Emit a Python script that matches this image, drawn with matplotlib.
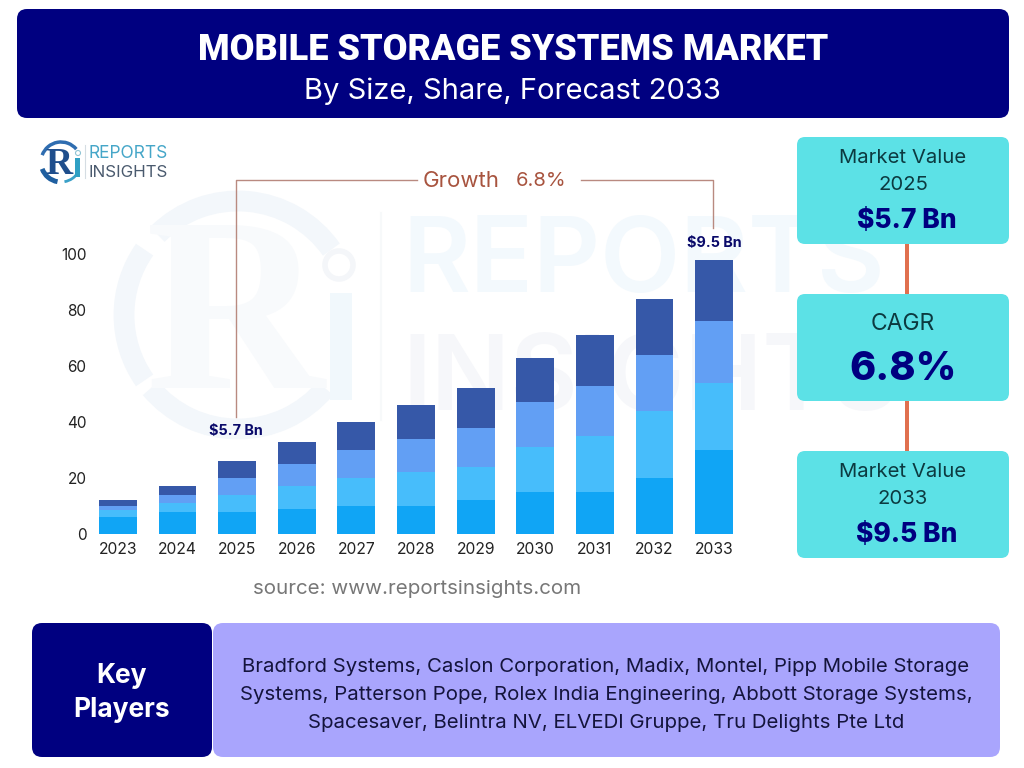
import matplotlib
matplotlib.use('Agg')
import matplotlib.pyplot as plt
from matplotlib.patches import FancyBboxPatch, Arc, Circle, Rectangle

plt.rcParams['font.family'] = ['Inter', 'DejaVu Sans']

# Stacked segments
years = ['2023', '2024', '2025', '2026', '2027', '2028', '2029', '2030', '2031', '2032', '2033']
seg_1 = [6, 8, 8, 9, 10, 10, 12, 15, 15, 20, 30]
seg_2 = [2.5, 3, 6, 8, 10, 12, 12, 16, 20, 24, 24]
seg_3 = [1.5, 3, 6, 8, 10, 12, 14, 16, 18, 20, 22]
seg_4 = [2, 3, 6, 8, 10, 12, 14, 16, 18, 20, 22]
seg_colors = ['#10A5F5', '#47BDFB', '#629FF4', '#3658A8']
y_ticks = [0, 20, 40, 60, 80, 100]

title = 'MOBILE STORAGE SYSTEMS MARKET'
subtitle = 'By Size, Share, Forecast 2033'
source = 'source: www.reportsinsights.com'
player_lines = ['Bradford Systems, Caslon Corporation, Madix, Montel, Pipp Mobile Storage',
                'Systems, Patterson Pope, Rolex India Engineering, Abbott Storage Systems,',
                'Spacesaver, Belintra NV, ELVEDI Gruppe, Tru Delights Pte Ltd']

NAVY = '#000080'
CARD = '#5CE1E6'
LAVENDER = '#A9A5FD'
DARK = '#0C3A40'
LINE = '#B98A80'
PALE = '#F3F7FB'

fig = plt.figure(figsize=(10.24, 7.68), dpi=100)

# Background axes in pixel coordinates for panels and labels
bg = fig.add_axes([0, 0, 1, 1], zorder=0)
bg.set_xlim(0, 1024)
bg.set_ylim(768, 0)
bg.axis('off')


def box(x0, y0, x1, y1, color, r=10, z=3):
    bg.add_patch(FancyBboxPatch((x0 + r, y0 + r), x1 - x0 - 2 * r, y1 - y0 - 2 * r,
                                boxstyle='round,pad=%d,rounding_size=%d' % (r, r),
                                fc=color, ec='none', zorder=z))


def label(x, y, s, size, color='black', weight='normal', ha='center', z=5, **kw):
    bg.text(x, y, s, fontsize=size, color=color, fontweight=weight, ha=ha,
            va='center_baseline', zorder=z, **kw)


# Watermark
bg.add_patch(Arc((238, 315), 228, 228, theta1=225, theta2=325, color=PALE, lw=15, zorder=1))
bg.add_patch(Arc((238, 315), 228, 228, theta1=145, theta2=215, color=PALE, lw=15, zorder=1))
bg.add_patch(Arc((238, 315), 228, 228, theta1=40, theta2=140, color=PALE, lw=15, zorder=1))
bg.text(235, 328, 'R', fontsize=178, family='Liberation Serif', fontweight='bold', color='#F8FAFC',
        ha='center', va='center', zorder=1)
bg.add_patch(Rectangle((330, 293), 22, 107, fc='#F1F8FC', ec='none', zorder=1))
bg.add_patch(Circle((339, 265), 14, fc='none', ec='#F4F6F9', lw=4, zorder=1))
bg.plot([381, 381], [213, 420], color='#F7F9FA', lw=1.5, zorder=1)
label(402, 254, 'REPORTS', 75, color='#F3F9FD', ha='left', weight='semibold', z=1)
label(402, 372, 'INSIGHTS', 75, color='#F6F7FA', ha='left', weight='semibold', z=1)

# Header
box(17, 9, 1009, 118, NAVY)
label(513, 46, title, 25.9, color='white', weight='heavy', family='Roboto')
label(512, 88, subtitle, 21, color='white')

# Logo
bg.add_patch(Arc((61, 162), 40, 40, theta1=200, theta2=320, color='#2F6DB0', lw=2.5, zorder=4))
bg.add_patch(Arc((61, 162), 40, 40, theta1=100, theta2=160, color='#1F5FA0', lw=3.5, zorder=4))
bg.add_patch(Arc((61, 162), 40, 40, theta1=30, theta2=80, color='#3AA0C8', lw=2, zorder=4))
bg.text(59, 164, 'R', fontsize=27, family='Liberation Serif', fontweight='bold', color='#1F4E8C',
        ha='center', va='center', zorder=5)
bg.add_patch(Rectangle((75, 158), 5, 19, fc='#2FA0C4', ec='none', zorder=5))
bg.add_patch(Circle((78, 153), 2.5, fc='white', ec='#8FC4D4', lw=0.8, zorder=5))
bg.plot([85, 85], [145, 178], color='#D5DDE3', lw=0.8, zorder=4)
label(89, 152, 'REPORTS', 12.5, color='#45A6C8', ha='left')
label(89, 171, 'INSIGHTS', 12.2, color='#4A5A6E', ha='left')

# Growth bracket
bg.plot([235.5, 235.5, 417], [417, 180, 180], color=LINE, lw=1, zorder=2)
bg.plot([581, 712.5, 712.5], [180, 180, 228], color=LINE, lw=1, zorder=2)
label(461, 179, 'Growth', 16, color='#A8543F')
label(541, 179, '6.8%', 14.5, color='#A8543F')
label(235.5, 429, '$5.7 Bn', 10.4, color='#0A0A6A', weight='bold')
label(714, 241, '$9.5 Bn', 10.4, color='#0A0A6A', weight='bold')

# Stacked bars
ax = fig.add_axes([88 / 1024, 234 / 768, 656 / 1024, 280 / 768], zorder=1)
ax.patch.set_visible(False)
bottom = [0] * len(years)
for seg, col in zip([seg_1, seg_2, seg_3, seg_4], seg_colors):
    ax.bar(range(len(years)), seg, width=0.635, bottom=bottom, color=col)
    bottom = [b + s for b, s in zip(bottom, seg)]
ax.set_xlim(-0.5, 10.5)
ax.set_ylim(0, 100)
ax.set_xticks(range(len(years)))
ax.set_xticklabels(years)
ax.set_yticks(y_ticks)
ax.tick_params(axis='x', length=0, labelsize=11.3, labelcolor='#222222', pad=6)
ax.tick_params(axis='y', length=0, labelsize=11, labelcolor='#222222', pad=1)
for s in ax.spines.values():
    s.set_visible(False)

label(417, 587, source, 14.8, color='#777777')

# Cards on the right
for y0, y1 in [(137, 244), (294, 401), (451, 558)]:
    box(797, y0, 1009, y1, CARD, r=8)
bg.add_patch(Rectangle((905, 243), 4, 52, fc='#E0704F', ec='none', zorder=2))
bg.add_patch(Rectangle((905, 400), 4, 52, fc='#E0704F', ec='none', zorder=2))
label(903, 156, 'Market Value', 14.6, color=DARK)
label(903, 183, '2025', 14.6, color=DARK)
label(907, 218, '$5.7 Bn', 19, color=NAVY, weight='heavy')
label(903, 322, 'CAGR', 16.5, color=DARK)
label(903, 365, '6.8%', 28.5, color=NAVY, weight='heavy')
label(903, 470, 'Market Value', 14.6, color=DARK)
label(903, 497, '2033', 14.6, color=DARK)
label(907, 532, '$9.5 Bn', 19, color=NAVY, weight='heavy')

# Key players strip
box(213, 623, 1000, 757, LAVENDER, r=10)
box(32, 623, 212, 757, NAVY, r=10, z=4)
label(122, 673, 'Key', 19, color='white', weight='bold')
label(122, 707, 'Players', 19, color='white', weight='bold')
for yy, line in zip([665, 693, 721], player_lines):
    label(606, yy, line, 14.7, color='#14143C')

fig.savefig('out.png', dpi=100)
